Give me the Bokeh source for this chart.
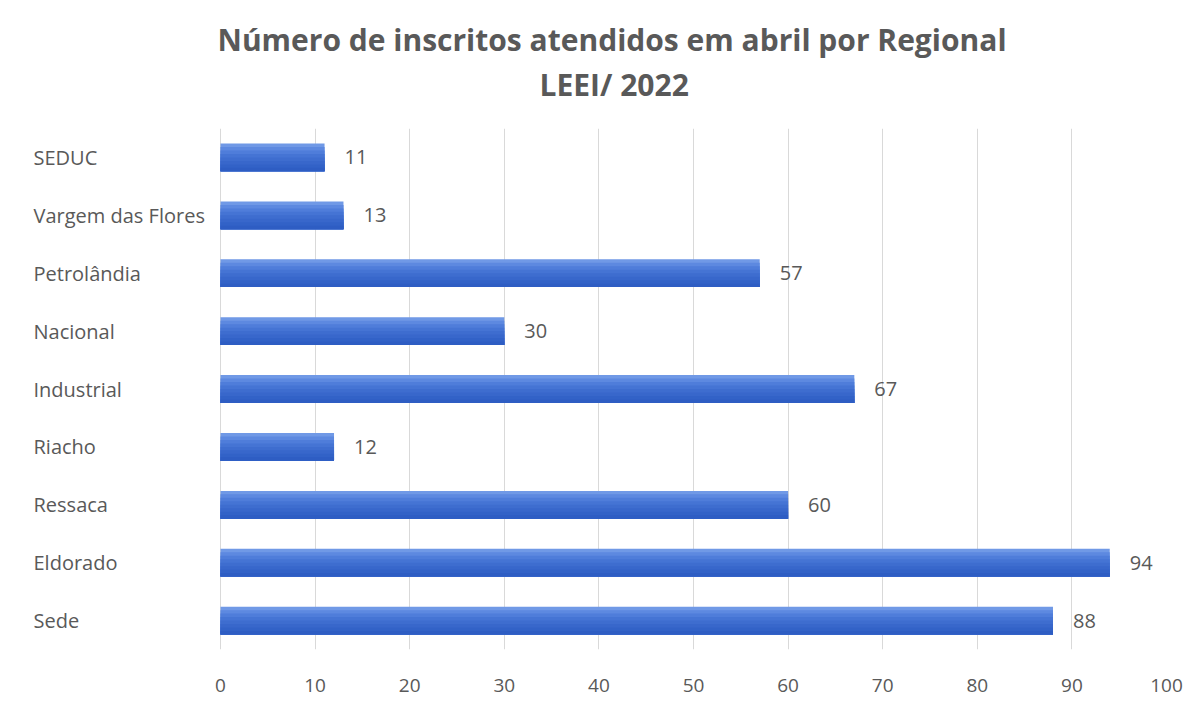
from bokeh.plotting import figure
from bokeh.models import Title, ColumnDataSource, FactorRange, Range1d, FixedTicker
from bokeh.transform import dodge
from bokeh.core.properties import value
from bokeh.embed import file_html
from bokeh.resources import INLINE

categories = ["SEDUC", "Vargem das Flores", "Petrolândia", "Nacional", "Industrial",
              "Riacho", "Ressaca", "Eldorado", "Sede"]
values = [11, 13, 57, 30, 67, 12, 60, 94, 88]
x_ticks = [0, 10, 20, 30, 40, 50, 60, 70, 80, 90, 100]
title_line1 = "Número de inscritos atendidos em abril por Regional"
title_line2 = "LEEI/ 2022"

factors = list(reversed(categories))
src = ColumnDataSource(dict(cat=categories, val=values, lab=[str(v) for v in values],
                            zero=[0] * len(values)))

# frame spans the label gutter too: x=0 sits 195px right of the frame's left edge
left_px, zero_px, right_px = 25, 220, 1166
unit_px = (right_px - zero_px) / 100.0
x_start = -(zero_px - left_px) / unit_px

p = figure(width=1188, height=697, y_range=FactorRange(*factors),
           x_range=Range1d(x_start, 100),
           output_backend="svg", toolbar_location=None,
           min_border_left=left_px, min_border_right=1188 - right_px,
           min_border_top=128, min_border_bottom=48)

# gradient bar: overlapping bars anchored at the bottom, lighter on top
bar_h = 0.48
grad = ["#7099e6", "#5d89e0", "#4f7dda", "#4574d4", "#3e6dcf", "#3867cb", "#3262c7", "#2e5dc3"]
n = len(grad)
for i, c in enumerate(grad):
    h = bar_h * (n - i) / n
    off = -bar_h / 2 + h / 2
    p.hbar(y=dodge("cat", off, range=p.y_range), right="val", left=0, height=h,
           source=src, fill_color=c, line_color=None)

# value labels
p.text(x="val", y="cat", text="lab", source=src, x_offset=20, text_align="left",
       text_baseline="middle", text_color="#595959", text_font=value("Open Sans"),
       text_font_size="20px")

# category labels, left-aligned
p.text(x="zero", y="cat", text="cat", source=src, x_offset=-187, text_align="left",
       text_baseline="middle", text_color="#595959", text_font=value("Open Sans"),
       text_font_size="20px")

p.yaxis.visible = False
p.ygrid.grid_line_color = None
p.xgrid.grid_line_color = "#d9d9d9"
p.xgrid.ticker = FixedTicker(ticks=x_ticks)
p.xaxis.ticker = FixedTicker(ticks=x_ticks)
p.xaxis.axis_line_color = None
p.xaxis.major_tick_line_color = None
p.xaxis.minor_tick_line_color = None
p.xaxis.major_label_standoff = 23
p.xaxis.major_label_text_color = "#595959"
p.xaxis.major_label_text_font = "Open Sans"
p.xaxis.major_label_text_font_size = "19px"
p.outline_line_color = None

# spacer between the title block and the plot frame
p.add_layout(Title(text=" ", text_font_size="1px", standoff=20), "above")
p.add_layout(Title(text=title_line2, align="left", offset=514, text_font="Open Sans",
                   text_font_size="30px", text_color="#595959", text_font_style="bold",
                   standoff=2), "above")
p.add_layout(Title(text=title_line1, align="left", offset=192, text_font="Open Sans",
                   text_font_size="30px", text_color="#595959", text_font_style="bold",
                   standoff=2), "above")

open("out.html", "w").write(file_html(p, INLINE))
